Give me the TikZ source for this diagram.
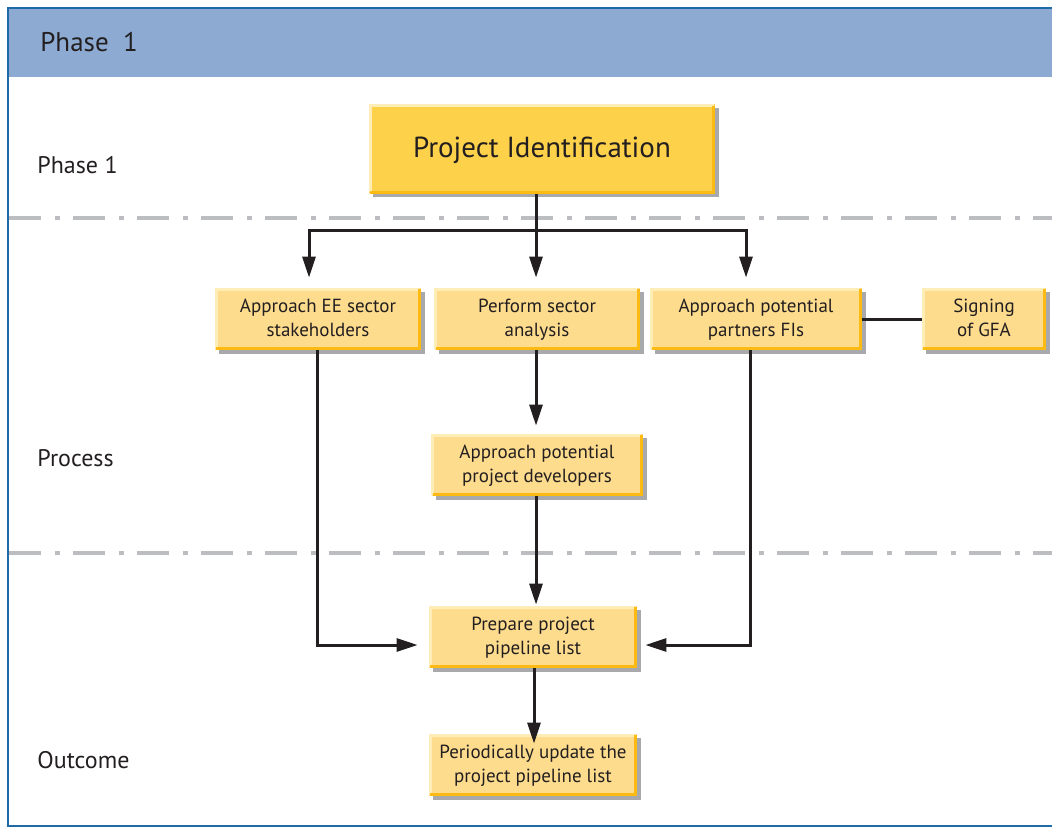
\documentclass[tikz,border=0pt]{standalone}
\usepackage{fontspec}
\setmainfont{PT Sans}
\usetikzlibrary{arrows.meta,positioning,shadows}

\definecolor{frameblue}{HTML}{1F6BA8}
\definecolor{headblue}{HTML}{8DABD2}
\definecolor{dashgray}{HTML}{BCBDC0}
\definecolor{mainyellow}{HTML}{FDD24A}
\definecolor{boxyellow}{HTML}{FEDC8E}
\definecolor{edgeorange}{HTML}{FDBA12}
\definecolor{edgelight}{HTML}{FFEDB8}
\definecolor{shadowgray}{HTML}{A7A9AC}
\definecolor{textdark}{HTML}{231F20}

\begin{document}
\begin{tikzpicture}
[x=0.5pt, y=-0.5pt, >={Triangle[length=10.5pt,width=6.5pt]},
flow/.style={->, line width=1.5pt, draw=textdark, shorten >=5pt},
stepbox/.style={fill=boxyellow, text=textdark, align=center, inner sep=0pt,
  font=\fontsize{9.5}{12}\selectfont, minimum height=31pt, text depth=1.5pt,
  drop shadow={shadow xshift=2pt, shadow yshift=-2pt, fill=shadowgray, opacity=1}},
mainbox/.style={stepbox, fill=mainyellow, font=\fontsize{14.5}{18}\selectfont,
  minimum width=173pt, minimum height=44.5pt},
rowlabel/.style={anchor=west, inner sep=0pt, text=textdark, font=\fontsize{12}{14}\selectfont},
sepline/.style={dashgray, line width=2pt, dash pattern=on 16pt off 7pt on 2.5pt off 6.5pt}
]
  \useasboundingbox (0,0) rectangle (1052,828);

  % frame and header band
  \fill[headblue] (8,8) rectangle (1052,77);
  \draw[frameblue, line width=1.2pt] (1052,8) -- (8,8) -- (8,826) -- (1052,826);
  \node[rowlabel, font=\fontsize{13.5}{16}\selectfont] (title) at (40,42) {Phase\ \ 1};

  % row separators
  \draw[sepline] (9,218) -- (1052,218);
  \draw[sepline] (9,553) -- (1052,553);

  % row labels
  \node[rowlabel] (lphase)   at (37,165) {Phase 1};
  \node[rowlabel] (lprocess) at (37,458) {Process};
  \node[rowlabel] (loutcome) at (37,760) {Outcome};

  % boxes
  \node[mainbox] (ident) at (542,149) {Project Identification};
  \node[stepbox, minimum width=103pt]   (stake)    at (318,319) {Approach EE sector\\stakeholders};
  \node[stepbox, minimum width=102.5pt] (perform)  at (537,319) {Perform sector\\analysis};
  \node[stepbox, minimum width=105.5pt] (partners) at (756,319) {Approach potential\\partners FIs};
  \node[stepbox, minimum width=62pt]    (signing)  at (984,319) {Signing\\of GFA};
  \node[stepbox, minimum width=105.5pt] (devel)    at (537,465) {Approach potential\\project developers};
  \node[stepbox, minimum width=104pt]   (pipeline) at (533,637) {Prepare project\\pipeline list};
  \node[stepbox, minimum width=104pt]   (update)   at (533,765) {Periodically update the\\project pipeline list};

  % box edges
  \foreach \n in {ident,stake,perform,partners,signing,devel,pipeline,update} {
    \draw[edgelight, line width=1.5pt] ([shift={(0.75pt,0.75pt)}]\n.south west) |- ([shift={(-0.75pt,-0.75pt)}]\n.north east);
    \draw[edgeorange, line width=1.5pt] ([shift={(-0.75pt,-0.75pt)}]\n.north east) |- ([shift={(0.75pt,0.75pt)}]\n.south west);
  }

  % connectors
  \coordinate (split) at (536,231);
  \draw[flow] ([xshift=-0.5pt]ident.south -| perform.north) -- ([xshift=-0.5pt]perform.north);
  \draw[flow] (split) -| ([xshift=-4.5pt]stake.north);
  \draw[flow] (split) -| ([xshift=-5pt]partners.north);
  \draw[line width=1.5pt, draw=textdark] (partners.east) -- (signing.west);
  \draw[flow, shorten >=4pt] ([xshift=-0.5pt]perform.south) -- ([xshift=-0.5pt]devel.north);
  \draw[flow, shorten >=0.5pt] ([xshift=-0.5pt]devel.south) -- ([xshift=-0.5pt]devel.south |- pipeline.north);
  \draw[flow, shorten >=-5pt] ([xshift=0.5pt]pipeline.south) -- ([xshift=0.5pt]update.north);
  \draw[flow, shorten >=5.5pt] ([xshift=-0.5pt]stake.south) |- ([yshift=-4pt]pipeline.west);
  \draw[flow, shorten >=4pt] ([xshift=-3pt]partners.south) |- ([yshift=-4pt]pipeline.east);
\end{tikzpicture}
\end{document}
